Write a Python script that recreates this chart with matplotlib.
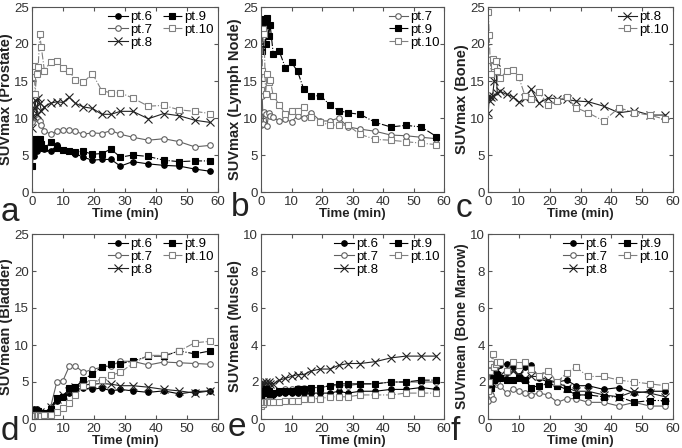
import numpy as np
import matplotlib
matplotlib.use('Agg')
import matplotlib.pyplot as plt

plt.rcParams['font.family'] = ['Liberation Sans', 'DejaVu Sans']

t = [0.1, 0.4, 0.7, 1.0, 1.5, 2.0, 2.5, 3.0, 4, 6, 8, 10, 12, 14, 16.5, 19.5,
     22.5, 25.5, 28.5, 32.5, 37.5, 42.5, 47.5, 52.5, 57.5]

# a: SUVmax prostate
a_pt6 = [5.3, 6.0, 4.9, 6.5, 5.5, 6.6, 6.2, 5.9, 5.8, 5.5, 6.3, 5.7, 5.5, 5.2, 4.7, 4.3, 4.4, 4.4, 3.5, 4.1, 3.8, 3.6, 3.5, 3.1, 2.8]
a_pt7 = [9.5, 11.6, 10.8, 10.2, 10.0, 9.8, 9.6, 9.0, 8.3, 7.8, 8.2, 8.4, 8.4, 8.2, 7.8, 8.0, 7.9, 8.3, 7.8, 7.4, 7.0, 7.2, 6.8, 6.1, 6.3]
a_pt8 = [8.7, 10.3, 11.4, 12.4, 10.5, 12.7, 12.0, 11.0, 11.5, 12.0, 12.2, 12.1, 12.8, 12.0, 11.5, 11.3, 10.5, 10.5, 10.9, 10.9, 9.9, 10.6, 10.3, 9.7, 9.4]
a_pt9 = [3.5, 5.0, 6.5, 7.2, 6.9, 6.4, 7.2, 6.5, 5.9, 6.7, 6.0, 5.7, 5.6, 5.4, 5.5, 5.1, 5.2, 5.8, 4.7, 5.0, 4.8, 4.3, 4.1, 4.2, 4.2]
a_pt10 = [15.5, 16.3, 17.0, 13.2, 16.0, 16.9, 21.3, 19.6, 16.4, 17.6, 17.7, 16.8, 16.3, 15.2, 14.8, 16.0, 13.7, 13.4, 13.4, 12.7, 11.6, 11.7, 11.1, 10.9, 10.6]

# b: SUVmax lymph node
b_pt7 = [9.0, 13.0, 9.2, 10.8, 10.5, 8.9, 10.7, 10.3, 10.1, 9.6, 9.8, 9.5, 10.3, 10.0, 10.7, 9.6, 9.6, 10.0, 8.8, 8.5, 8.2, 7.7, 7.6, 7.4, 7.2]
b_pt9 = [22.5, 19.0, 23.0, 23.4, 20.0, 23.5, 21.1, 22.6, 18.7, 19.0, 16.8, 17.5, 16.3, 13.9, 13.0, 13.0, 11.8, 11.0, 10.7, 10.5, 9.4, 8.8, 9.0, 8.8, 7.5]
b_pt10 = [13.8, 16.3, 22.0, 21.4, 13.2, 15.9, 14.8, 15.2, 13.0, 11.8, 10.5, 11.0, 11.0, 11.5, 10.2, 9.5, 9.0, 9.1, 9.0, 7.8, 7.1, 7.0, 6.8, 6.6, 6.4]

# c: SUVmax bone
c_pt8 = [10.7, 13.0, 12.3, 12.8, 13.0, 15.0, 17.5, 13.4, 13.6, 13.2, 12.9, 12.1, 12.7, 13.9, 12.0, 12.7, 12.6, 12.5, 12.3, 12.2, 11.6, 10.7, 11.0, 10.4, 10.4]
c_pt10 = [24.3, 21.2, 17.8, 16.0, 18.0, 17.0, 17.7, 16.3, 15.4, 16.3, 16.5, 15.5, 13.0, 12.5, 13.5, 11.8, 12.3, 12.9, 11.4, 10.7, 9.6, 11.4, 10.7, 10.4, 9.8]

# d: SUVmean bladder
d_pt6 = [0.5, 0.8, 1.3, 0.7, 1.3, 0.8, 0.6, 0.5, 0.6, 1.4, 2.5, 3.0, 3.5, 3.9, 4.2, 4.0, 4.2, 3.8, 4.0, 3.8, 3.6, 3.8, 3.4, 3.7, 3.8]
d_pt7 = [0.8, 0.6, 1.0, 0.6, 0.7, 0.9, 0.5, 0.6, 0.7, 1.6, 5.0, 5.2, 7.1, 7.2, 6.3, 6.7, 7.0, 7.2, 7.8, 7.8, 7.3, 7.7, 7.6, 7.5, 7.4]
d_pt8 = [0.7, 0.9, 0.6, 1.1, 0.8, 0.7, 0.9, 0.6, 0.8, 1.6, 2.7, 3.3, 3.8, 4.3, 4.6, 4.7, 4.8, 4.7, 4.5, 4.5, 4.3, 4.0, 3.8, 3.5, 3.8]
d_pt9 = [0.6, 1.2, 0.8, 1.0, 0.7, 1.1, 0.8, 0.7, 0.8, 1.4, 2.8, 3.0, 4.2, 4.3, 5.3, 6.1, 7.0, 7.4, 7.5, 7.8, 8.5, 8.5, 9.2, 8.8, 9.2]
d_pt10 = [0.4, 0.5, 0.6, 0.4, 0.5, 0.6, 0.5, 0.4, 0.5, 0.6, 0.9, 1.5, 2.1, 3.2, 4.5, 4.9, 5.3, 5.9, 6.3, 7.5, 8.6, 8.6, 9.2, 10.3, 10.5]

# e: SUVmean muscle
e_pt6 = [1.3, 1.5, 1.2, 1.6, 1.4, 1.5, 1.3, 1.2, 1.3, 1.4, 1.4, 1.4, 1.4, 1.4, 1.4, 1.4, 1.4, 1.5, 1.4, 1.5, 1.5, 1.6, 1.6, 1.7, 1.6]
e_pt7 = [1.1, 1.3, 1.2, 1.5, 1.4, 1.2, 1.3, 1.3, 1.4, 1.5, 1.6, 1.6, 1.7, 1.7, 1.7, 1.7, 1.8, 1.8, 1.8, 1.9, 1.9, 2.0, 2.0, 2.0, 2.0]
e_pt8 = [1.5, 1.8, 2.0, 1.7, 2.0, 1.9, 2.0, 1.9, 1.9, 2.1, 2.2, 2.3, 2.4, 2.4, 2.6, 2.7, 2.7, 2.9, 3.0, 3.0, 3.1, 3.3, 3.4, 3.4, 3.4]
e_pt9 = [1.2, 1.4, 1.5, 1.4, 1.6, 1.4, 1.5, 1.3, 1.4, 1.5, 1.5, 1.5, 1.6, 1.6, 1.7, 1.7, 1.8, 1.9, 1.9, 1.9, 1.9, 2.0, 2.0, 2.1, 2.1]
e_pt10 = [0.7, 0.8, 0.8, 0.9, 0.9, 0.9, 1.0, 0.9, 0.9, 0.9, 1.0, 1.0, 1.0, 1.1, 1.1, 1.1, 1.2, 1.2, 1.2, 1.3, 1.3, 1.3, 1.4, 1.4, 1.4]

# f: SUVmean bone marrow
f_pt6 = [1.4, 1.8, 2.2, 2.5, 2.0, 2.6, 2.4, 2.5, 2.9, 3.0, 2.8, 2.3, 2.8, 2.9, 2.2, 2.0, 2.0, 2.1, 1.8, 1.8, 1.6, 1.7, 1.4, 1.5, 1.5]
f_pt7 = [1.0, 1.6, 2.5, 1.3, 1.1, 2.3, 1.9, 2.0, 1.8, 1.4, 1.6, 1.5, 1.4, 1.3, 1.4, 1.3, 0.9, 1.1, 1.1, 0.9, 0.9, 0.7, 0.9, 0.7, 0.7]
f_pt8 = [2.5, 2.2, 2.7, 2.0, 2.4, 2.2, 2.6, 2.3, 2.4, 2.3, 2.6, 2.4, 2.2, 2.3, 2.3, 2.1, 2.0, 1.7, 1.5, 1.5, 1.3, 1.2, 1.5, 1.4, 1.2]
f_pt9 = [1.8, 2.0, 2.2, 1.7, 2.3, 2.1, 2.2, 2.4, 2.2, 2.1, 2.1, 2.2, 2.1, 1.7, 1.8, 1.9, 1.8, 1.6, 1.3, 1.3, 1.2, 1.2, 0.9, 1.0, 1.0]
f_pt10 = [1.5, 2.0, 2.6, 3.0, 3.5, 2.8, 3.0, 3.1, 3.1, 2.6, 3.1, 2.9, 3.1, 2.7, 2.3, 2.6, 2.0, 2.5, 2.8, 2.3, 2.3, 2.1, 2.0, 1.9, 1.8]

styles = {
    'pt.6': dict(color='black', ls='-', marker='o', mfc='black', mec='black'),
    'pt.7': dict(color='#606060', ls='-', marker='o', mfc='white', mec='#606060'),
    'pt.8': dict(color='#222222', ls='-', marker='x', mfc='none', mec='#222222', ms=5.5),
    'pt.9': dict(color='black', ls='-.', marker='s', mfc='black', mec='black'),
    'pt.10': dict(color='#808080', ls='-.', marker='s', mfc='white', mec='#808080'),
}

panels = [
    ('a', 'SUVmax (Prostate)', 25, {'pt.6': a_pt6, 'pt.7': a_pt7, 'pt.8': a_pt8, 'pt.9': a_pt9, 'pt.10': a_pt10}, 2),
    ('b', 'SUVmax (Lymph Node)', 25, {'pt.7': b_pt7, 'pt.9': b_pt9, 'pt.10': b_pt10}, 1),
    ('c', 'SUVmax (Bone)', 25, {'pt.8': c_pt8, 'pt.10': c_pt10}, 1),
    ('d', 'SUVmean (Bladder)', 25, {'pt.6': d_pt6, 'pt.7': d_pt7, 'pt.8': d_pt8, 'pt.9': d_pt9, 'pt.10': d_pt10}, 2),
    ('e', 'SUVmean (Muscle)', 10, {'pt.6': e_pt6, 'pt.7': e_pt7, 'pt.8': e_pt8, 'pt.9': e_pt9, 'pt.10': e_pt10}, 2),
    ('f', 'SUVmean (Bone Marrow)', 10, {'pt.6': f_pt6, 'pt.7': f_pt7, 'pt.8': f_pt8, 'pt.9': f_pt9, 'pt.10': f_pt10}, 2),
]

W, H = 682, 448
fig = plt.figure(figsize=(W / 100, H / 100), dpi=100)

# pixel boxes (left, top, right, bottom)
boxes = [(32, 7, 218, 192), (261, 7, 444, 192), (488, 7, 673, 192),
         (32, 234, 218, 419), (261, 234, 444, 419), (488, 234, 673, 419)]
letter_pos = [(10, 212), (240, 207), (464, 208), (10, 431), (237, 427), (455, 431)]

for (letter, ylab, ymax, series, ncol), (l, tp, r, b), (lx, ly) in zip(panels, boxes, letter_pos):
    ax = fig.add_axes([l / W, 1 - b / H, (r - l) / W, (b - tp) / H])
    for name, vals in series.items():
        st = dict(styles[name])
        ms = st.pop('ms', 4)
        ax.plot(t, vals, lw=0.8, ms=ms, mew=0.8, label=name, **st)
    ax.set_xlim(0, 60)
    ax.set_ylim(0, ymax)
    ax.set_xticks(range(0, 61, 10))
    ax.set_yticks(range(0, ymax + 1, 5 if ymax == 25 else 2))
    ax.tick_params(direction='in', labelsize=9.5, length=3, top=True, right=True,
                   labelcolor='#333333', color='#555555')
    ax.tick_params(axis='x', pad=3)
    ax.tick_params(axis='y', pad=2)
    for sp in ax.spines.values():
        sp.set_color('#555555')
        sp.set_linewidth(0.8)
    ax.set_xlabel('Time (min)', fontsize=9.5, fontweight='bold', labelpad=0, color='#222222')
    ax.set_ylabel(ylab, fontsize=10.5 if letter != 'f' else 10, fontweight='bold',
                  labelpad=1, color='#222222')
    ax.legend(loc='upper right', ncol=ncol, frameon=False, fontsize=9.5,
              handlelength=1.45, handletextpad=0.2, columnspacing=0.8,
              labelspacing=0.05, borderaxespad=0.1, borderpad=0.2)
    fig.text(lx / W, 1 - ly / H, letter, fontsize=24, ha='center', va='center', color='#222222')

fig.savefig('out.png', dpi=100)
